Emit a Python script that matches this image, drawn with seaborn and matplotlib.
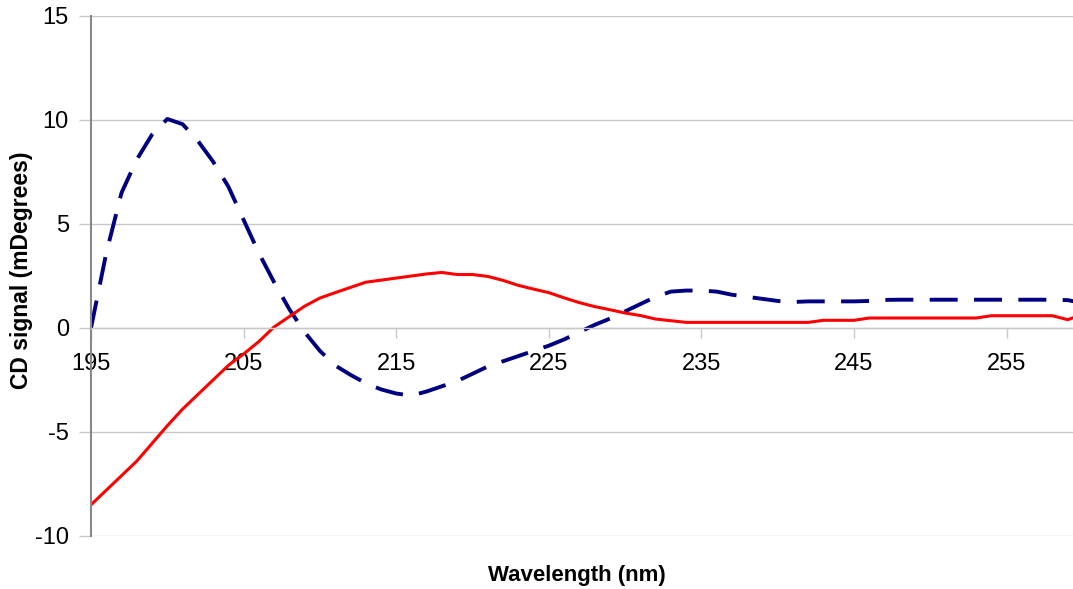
import matplotlib
matplotlib.use("Agg")
import matplotlib.pyplot as plt
import seaborn as sns
import numpy as np
import pandas as pd

wavelength = list(range(195, 261))

blue_signal = [0.0, 3.6, 6.5, 8.1, 9.3, 10.05, 9.8, 9.0, 8.0, 6.8,
               5.2, 3.6, 2.2, 0.9, -0.2, -1.1, -1.8, -2.25, -2.65, -2.95,
               -3.15, -3.25, -3.05, -2.8, -2.55, -2.2, -1.85, -1.6, -1.35, -1.1,
               -0.85, -0.55, -0.2, 0.15, 0.45, 0.8, 1.15, 1.5, 1.75, 1.8,
               1.8, 1.75, 1.6, 1.5, 1.4, 1.3, 1.25, 1.28, 1.28, 1.28,
               1.28, 1.3, 1.35, 1.36, 1.36, 1.36, 1.36, 1.36, 1.36, 1.36,
               1.36, 1.36, 1.36, 1.36, 1.34, 1.2]

red_signal = [-8.5, -7.8, -7.1, -6.4, -5.55, -4.7, -3.9, -3.2, -2.5, -1.8,
              -1.25, -0.65, 0.05, 0.55, 1.05, 1.44, 1.7, 1.95, 2.2, 2.3,
              2.4, 2.5, 2.6, 2.67, 2.57, 2.57, 2.48, 2.29, 2.05, 1.87,
              1.7, 1.45, 1.22, 1.03, 0.88, 0.72, 0.6, 0.43, 0.35, 0.27,
              0.27, 0.27, 0.27, 0.27, 0.27, 0.27, 0.27, 0.27, 0.37, 0.37,
              0.37, 0.48, 0.48, 0.48, 0.48, 0.48, 0.48, 0.48, 0.48, 0.59,
              0.59, 0.59, 0.59, 0.59, 0.4, 0.65]

y_ticks = [-10, -5, 0, 5, 10, 15]
x_ticks = [195, 205, 215, 225, 235, 245, 255]

df = pd.DataFrame({"wl": wavelength, "blue": blue_signal, "red": red_signal})

sns.set_theme(style="white")
plt.rcParams['font.family'] = ['Liberation Sans', 'DejaVu Sans']

fig = plt.figure(figsize=(10.73, 5.89), dpi=100)
ax = fig.add_axes([91/1073, 1 - 536/589, (1073 - 91)/1073, (536 - 16)/589])

sns.lineplot(data=df, x="wl", y="blue", ax=ax, color="#000080", linewidth=2.8)
sns.lineplot(data=df, x="wl", y="red", ax=ax, color="#FF0000", linewidth=2.2)
ax.lines[0].set_linestyle((0, (7.2, 4.2)))
ax.lines[0].set_dash_capstyle("butt")

ax.set_xlim(195, 259.35)
ax.set_ylim(-10, 15)
ax.set_yticks(y_ticks)
ax.set_xticks(x_ticks)
ax.set_yticklabels([str(v) for v in y_ticks])
ax.set_xticklabels([str(v) for v in x_ticks])

ax.grid(axis="y", color="#c8c8c8", linewidth=1.0)
ax.grid(axis="x", visible=False)
ax.set_axisbelow(True)

for s in ["top", "right"]:
    ax.spines[s].set_visible(False)
ax.spines["left"].set_color("#888888")
ax.spines["left"].set_linewidth(1.5)
ax.spines["bottom"].set_position(("data", 0))
ax.spines["bottom"].set_color("#c8c8c8")
ax.spines["bottom"].set_linewidth(1.0)

ax.tick_params(axis="y", which="major", direction="out", length=9, width=1.0,
               color="#c8c8c8", labelsize=17, pad=7, left=True, labelcolor="black")
ax.tick_params(axis="x", which="major", direction="out", length=7, width=1.0,
               color="#c8c8c8", labelsize=17, pad=11, bottom=True, labelcolor="black")

ax.set_xlabel("")
ax.set_ylabel("")
fig.text(577/1073, 1 - 575/589, "Wavelength (nm)", ha="center", va="center",
         fontsize=16, fontweight="bold", color="black")
fig.text(22/1073, 1 - 270/589, "CD signal (mDegrees)", ha="center", va="center",
         rotation=90, fontsize=16.5, fontweight="bold", color="black")

fig.savefig("out.png", dpi=100, facecolor="white")
